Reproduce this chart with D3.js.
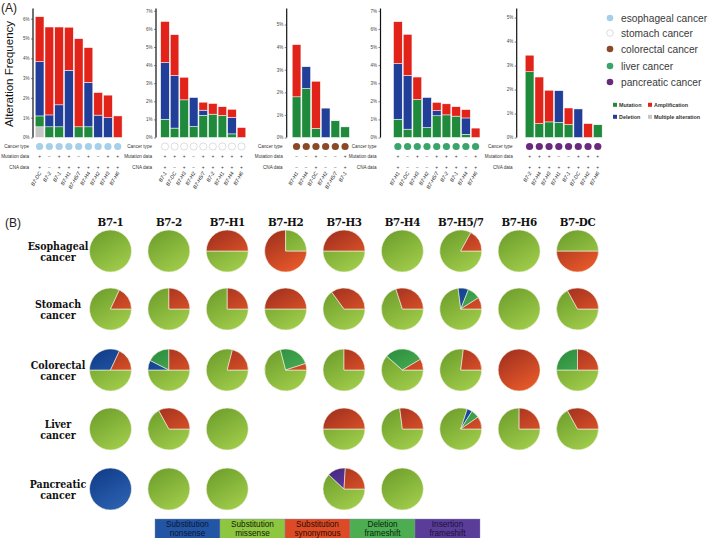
<!DOCTYPE html>
<html><head><meta charset="utf-8">
<script src="https://cdn.jsdelivr.net/npm/d3@7/dist/d3.min.js"></script>
<style>body{margin:0;background:#fff}svg{display:block}</style>
</head><body>
<svg id="c" width="709" height="538"></svg>
<script>
// ---------------- DATA: Panel A ----------------
const esoGenes = ["B7-DC","B7-2","B7-1","B7-H1","B7-H5/7","B7-H4","B7-H2","B7-H3","B7-H6"];
const esoMultiple = [0.54,0,0,0,0,0,0,0,0];
const esoMutation = [0.55,0.54,0.54,0,0.54,0.54,0,0,0];
const esoDeletion = [2.74,0.6,1.11,3.39,0,2.24,1.13,1.0,0];
const esoAmplification = [2.27,4.44,3.93,2.18,4.45,1.76,1.14,1.14,1.09];
const esoMutSign = ["+","−","+","+","−","+","−","+","+"];
const esoCnaSign = ["+","−","+","+","+","+","+","+","+"];

const stoGenes = ["B7-1","B7-DC","B7-H3","B7-H2","B7-H5/7","B7-2","B7-H1","B7-H4","B7-H6"];
const stoMutation = [1.01,0.52,2.08,0.61,1.23,1.29,1.22,0.2,0];
const stoDeletion = [3.13,2.91,0,1.6,0.28,0,0,0.92,0];
const stoAmplification = [2.27,2.25,1.25,0,0.44,0.59,0.48,0.44,0.55];
const stoMutSign = ["+","+","+","−","+","+","+","+","+"];
const stoCnaSign = ["+","−","+","−","+","+","+","+","+"];

const colGenes = ["B7-H1","B7-H4","B7-DC","B7-H2","B7-H5/7","B7-1"];
const colMutation = [1.8,2.17,0.4,0,0.74,0.47];
const colDeletion = [0,0.96,0,1.3,0,0];
const colAmplification = [2.31,0,2.09,0,0,0];
const colMutSign = ["−","−","+","−","−","+"];
const colCnaSign = ["−","−","+","−","−","+"];

const livGenes = ["B7-H1","B7-DC","B7-H3","B7-H2","B7-H5/7","B7-2","B7-1","B7-H4","B7-H6"];
const livMutation = [1.01,0.46,2.1,0.55,1.2,1.25,1.18,0.18,0];
const livDeletion = [3.08,2.97,0,1.66,0.28,0,0,0.9,0];
const livAmplification = [2.31,2.27,1.24,0,0.46,0.61,0.52,0.46,0.52];
const livMutSign = ["+","−","+","−","+","+","+","−","+"];
const livCnaSign = ["+","−","−","−","+","+","+","+","+"];

const panGenes = ["B7-2","B7-H4","B7-H3","B7-H1","B7-1","B7-DC","B7-H2","B7-H6"];
const panMutation = [2.74,0.58,0.65,0.63,0.54,0,0,0.53];
const panDeletion = [0,0,0,1.32,0,1.19,0,0];
const panAmplification = [0.69,1.94,1.32,0,0.69,0,0.58,0];
const panMutSign = ["+","+","+","−","−","+","+","+"];
const panCnaSign = ["+","+","+","+","+","+","+","+"];

const cancerNames = ["esophageal cancer","stomach cancer","colorectal cancer","liver cancer","pancreatic cancer"];
const alterationNames = ["Mutation","Amplification","Deletion","Multiple alteration"];

// ---------------- DATA: Panel B ----------------
const pieGenes = ["B7-1","B7-2","B7-H1","B7-H2","B7-H3","B7-H4","B7-H5/7","B7-H6","B7-DC"];
const pieRows = ["Esophageal|cancer","Stomach|cancer","Colorectal|cancer","Liver|cancer","Pancreatic|cancer"];
// slice lists, clockwise; N nonsense, M missense, S synonymous, D deletion fs, I insertion fs
const esoPies = [[["M",100]],[["M",100]],[["M",50],["S",50]],[["S",75],["M",25]],[["M",50],["S",50]],[["M",100]],[["M",83],["S",17]],[["M",100]],[["S",50],["M",50]]];
const stoPies = [[["M",82],["S",18]],[["M",75],["S",25]],[["M",75],["S",25]],[["M",50],["S",50]],[["M",65],["S",35]],[["M",70],["S",30]],[["M",73],["N",8],["D",10],["S",9]],[["M",100]],[["M",67],["S",33]]];
const colPies = [[["M",50],["N",32],["S",18]],[["M",50],["N",7.5],["D",17.5],["S",25]],[["M",79],["S",21]],[["M",71],["D",24],["S",5]],[["M",75],["S",25]],[["M",61.5],["D",30],["S",8.5]],[["M",77],["S",23]],[["S",100]],[["M",50],["D",25],["S",25]]];
const livPies = [[["M",100]],[["M",67],["S",33]],[["M",100]],null,[["M",50],["S",50]],[["M",73],["S",27]],[["M",80],["N",4],["D",6.4],["S",9.6]],[["M",75],["S",25]],[["M",67],["S",33]]];
const panPies = [[["N",100]],[["M",100]],[["M",100]],null,[["M",62],["I",14],["S",24]],[["M",100]],null,null,null];
const mutTypes = ["N","M","S","D","I"];
const mutTypeLabels = ["Substitution|nonsense","Substitution|missense","Substitution|synonymous","Deletion|frameshift","Insertion|frameshift"];

// ---------------- DRAW ----------------
const svg = d3.select("#c");
const sans = "'Liberation Sans', Arial, sans-serif";
const slab = "'DejaVu Serif Condensed','DejaVu Serif',serif";
const altColor = {Multiple:"#c6c6c6", Mutation:"#1f8a3c", Deletion:"#213f99", Amplification:"#e2231a"};

const charts = [
  {genes:esoGenes, s:{Multiple:esoMultiple, Mutation:esoMutation, Deletion:esoDeletion, Amplification:esoAmplification}, mut:esoMutSign, cna:esoCnaSign, fill:"#a6cfea", stroke:"none", ax:33, x0:35, step:9.7, ppp:19.8, ticks:6},
  {genes:stoGenes, s:{Mutation:stoMutation, Deletion:stoDeletion, Amplification:stoAmplification}, mut:stoMutSign, cna:stoCnaSign, fill:"#fff", stroke:"#cfcfcf", ax:156, x0:160.5, step:9.5, ppp:18.1, ticks:7},
  {genes:colGenes, s:{Mutation:colMutation, Deletion:colDeletion, Amplification:colAmplification}, mut:colMutSign, cna:colCnaSign, fill:"#8a4a25", stroke:"none", ax:286.7, x0:292, step:9.6, ppp:22.6, ticks:5},
  {genes:livGenes, s:{Mutation:livMutation, Deletion:livDeletion, Amplification:livAmplification}, mut:livMutSign, cna:livCnaSign, fill:"#3aa56a", stroke:"none", ax:380.5, x0:393.3, step:9.65, ppp:18.1, ticks:7},
  {genes:panGenes, s:{Mutation:panMutation, Deletion:panDeletion, Amplification:panAmplification}, mut:panMutSign, cna:panCnaSign, fill:"#6a2a7c", stroke:"none", ax:516.7, x0:525, step:9.67, ppp:24, ticks:5}
];
const yBase = 137.5, yTop = 8.5;
const stackOrder = ["Multiple","Mutation","Deletion","Amplification"];

svg.append("text").attr("x",1).attr("y",12).attr("font-family",sans).attr("font-size",12).attr("fill","#222").text("(A)");
svg.append("text").attr("transform","translate(13,74) rotate(-90)").attr("text-anchor","middle")
  .attr("font-family",sans).attr("font-size",11.5).attr("fill","#111").text("Alteration Frequency");

charts.forEach(c => {
  const g = svg.append("g");
  const yMax = (yBase - yTop) / c.ppp;
  const y = d3.scaleLinear().domain([0, yMax]).range([yBase, yTop]);
  const x = d3.scaleBand().domain(c.genes).range([c.x0, c.x0 + c.genes.length*c.step]).paddingInner(0.1).paddingOuter(0.02);
  const axis = d3.axisLeft(y).tickValues(d3.range(0, c.ticks+1)).tickFormat(d => d + "%").tickSize(2).tickPadding(1.5);
  const ag = g.append("g").attr("transform",`translate(${c.ax},0)`).call(axis);
  ag.select(".domain").attr("stroke","#111").attr("stroke-width",1.2).attr("d",`M0,${yBase}V${yTop}`);
  ag.selectAll(".tick line").attr("stroke","#333").attr("stroke-width",0.6);
  ag.selectAll(".tick text").attr("font-size",4.5).attr("font-family",sans).attr("fill","#444");
  const keys = stackOrder.filter(k => c.s[k]);
  const rows = c.genes.map((gn,i) => { const o = {gene:gn}; keys.forEach(k => o[k] = c.s[k][i]); return o; });
  const stacked = d3.stack().keys(keys)(rows);
  g.selectAll("g.ser").data(stacked).join("g").attr("fill", d => altColor[d.key])
    .selectAll("rect").data(d => d.filter(v => v[1]-v[0] > 0)).join("rect")
    .attr("x", d => x(d.data.gene)).attr("width", x.bandwidth())
    .attr("y", d => y(d[1])).attr("height", d => y(d[0]) - y(d[1]))
    .attr("stroke","#fff").attr("stroke-width",0.5);
  const lab = [["Cancer type",146.5],["Mutation data",156.8],["CNA data",167.5]];
  lab.forEach(([t,yy]) => g.append("text").attr("x", c.ax - 4).attr("y", yy + 1.6).attr("text-anchor","end")
    .attr("font-family",sans).attr("font-size",4.6).attr("fill","#333").text(t));
  c.genes.forEach((gn,i) => {
    const cx = x(gn) + x.bandwidth()/2;
    g.append("circle").attr("cx",cx).attr("cy",146.5).attr("r",3.6).attr("fill",c.fill).attr("stroke",c.stroke).attr("stroke-width",0.7);
    g.append("text").attr("x",cx).attr("y",158.4).attr("text-anchor","middle").attr("font-size",4.8).attr("font-family",sans).attr("fill","#333").text(c.mut[i]);
    g.append("text").attr("x",cx).attr("y",169.1).attr("text-anchor","middle").attr("font-size",4.8).attr("font-family",sans).attr("fill","#333").text(c.cna[i]);
    g.append("text").attr("transform",`translate(${cx+2},173) rotate(-60)`).attr("text-anchor","end")
      .attr("font-family",sans).attr("font-style","italic").attr("font-size",5.2).attr("fill","#222").text(gn);
  });
});

const legFill = ["#a6cfea","#fff","#8a4a25","#3aa56a","#6a2a7c"];
const legY = [18,33,49,66,82];
cancerNames.forEach((n,i) => {
  svg.append("circle").attr("cx",610).attr("cy",legY[i]).attr("r",3.3).attr("fill",legFill[i]).attr("stroke", i===1?"#cfcfcf":"none").attr("stroke-width",0.7);
  svg.append("text").attr("x",621).attr("y",legY[i]+3.5).attr("font-family",sans).attr("font-size",10.2).attr("fill","#3a3a3a").text(n);
});
const altLegColor = [altColor.Mutation, altColor.Amplification, altColor.Deletion, altColor.Multiple];
alterationNames.forEach((n,i) => {
  const lx = i%2===0 ? 613 : 648, ly = i<2 ? 105 : 117;
  svg.append("rect").attr("x",lx).attr("y",ly-2.2).attr("width",4).attr("height",4).attr("fill",altLegColor[i]);
  svg.append("text").attr("x",lx+6).attr("y",ly+1.8).attr("font-family",sans).attr("font-weight","bold").attr("font-size",5.4).attr("fill","#333").text(n);
});

// ---------------- Panel B ----------------
const defs = svg.append("defs");
const grad = {N:["#0f3b88","#2c62b0"], M:["#6c9d2b","#a0cc4a"], S:["#9e2e1e","#e85a2a"], D:["#2a8c3e","#55b85a"], I:["#43257f","#6c4cab"]};
const R = 21;
Object.entries(grad).forEach(([k,[a,b]]) => {
  const lg = defs.append("linearGradient").attr("id","g"+k).attr("gradientUnits","userSpaceOnUse")
    .attr("x1",-R*0.8).attr("y1",-R).attr("x2",R*0.4).attr("y2",R);
  lg.append("stop").attr("offset","0").attr("stop-color",a);
  lg.append("stop").attr("offset","1").attr("stop-color",b);
});
svg.append("text").attr("x",5).attr("y",226.5).attr("font-family",sans).attr("font-size",12).attr("fill","#222").text("(B)");

const colX = d3.scalePoint().domain(pieGenes).range([110.5, 577.5]);
const rowY = [251, 309, 370, 429, 489];
pieGenes.forEach(gn => svg.append("text").attr("x",colX(gn)).attr("y",226).attr("text-anchor","middle")
  .attr("font-family",slab).attr("font-weight","bold").attr("font-size",11.5).attr("letter-spacing","-0.4").attr("fill","#111").text(gn));
pieRows.forEach((lbl,i) => {
  const [a,b] = lbl.split("|");
  const t = svg.append("text").attr("text-anchor","middle").attr("font-family",slab).attr("font-weight","bold").attr("font-size",10.5).attr("fill","#111");
  t.append("tspan").attr("x",58).attr("y",rowY[i]-1.5).text(a);
  t.append("tspan").attr("x",58).attr("y",rowY[i]+9.5).text(b);
});
const pie = d3.pie().sort(null).value(d => d[1]).startAngle(Math.PI/2).endAngle(Math.PI/2 + 2*Math.PI);
const arc = d3.arc().innerRadius(0).outerRadius(R);
[esoPies, stoPies, colPies, livPies, panPies].forEach((row,ri) => {
  row.forEach((slices,ci) => {
    if (!slices) return;
    const g = svg.append("g").attr("transform",`translate(${colX(pieGenes[ci])},${rowY[ri]})`);
    g.selectAll("path").data(pie(slices)).join("path").attr("d",arc)
      .attr("fill", d => `url(#g${d.data[0]})`).attr("stroke","#f3f3e6").attr("stroke-width",0.6);
  });
});

const legCol = {N:"#2255a4", M:"#8dc63f", S:"#dd4b26", D:"#4cae50", I:"#5a3d99"};
const legTxt = {N:"#0c1633", M:"#14200a", S:"#2a0c04", D:"#0a2612", I:"#1c1038"};
const lx = d3.scaleBand().domain(mutTypes).range([155, 480]);
mutTypes.forEach((k,i) => {
  svg.append("rect").attr("x",lx(k)).attr("y",519).attr("width",lx.bandwidth()).attr("height",22).attr("fill",legCol[k]).attr("stroke","#8a8ab0").attr("stroke-width",0.4);
  const [a,b] = mutTypeLabels[i].split("|");
  const t = svg.append("text").attr("text-anchor","middle").attr("font-family",sans).attr("font-size",8.2).attr("fill",legTxt[k]);
  t.append("tspan").attr("x",lx(k)+lx.bandwidth()/2).attr("y",527).text(a);
  t.append("tspan").attr("x",lx(k)+lx.bandwidth()/2).attr("y",536).text(b);
});
</script>
</body></html>
